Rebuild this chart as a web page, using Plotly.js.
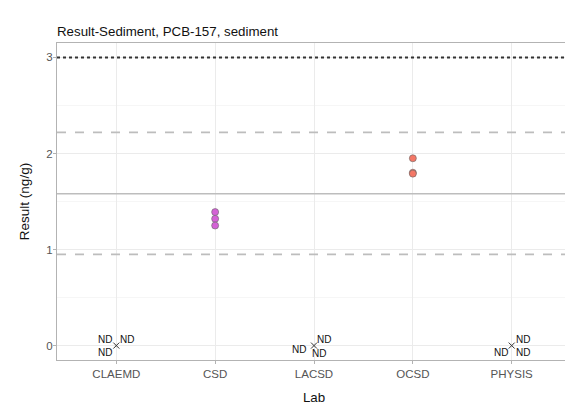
<!DOCTYPE html>
<html>
<head>
<meta charset="utf-8">
<script src="https://cdn.plot.ly/plotly-3.0.1.min.js"></script>
<style>
html, body { margin:0; padding:0; overflow:hidden; background:#fff; }
#chart { width:576px; height:416px; }
</style>
</head>
<body>
<div id="chart"></div>
<script>
// ---- data ----
var labs = ['CLAEMD', 'CSD', 'LACSD', 'OCSD', 'PHYSIS'];
var csdValues = [1.39, 1.32, 1.25];
var ocsdValues = [1.95, 1.80, 1.79];
var ndLabs = ['CLAEMD', 'LACSD', 'PHYSIS'];
var ndValue = 0;
var limitLine = 3.0;
var meanLine = 1.58;
var lowerBand = 0.95;
var upperBand = 2.22;
var yTicks = [0, 1, 2, 3];

// ND label offsets (pixel nudges, like ggrepel)
var ndOffsets = {
  'CLAEMD': [[-11, 6], [11, 6], [-11, -7]],
  'LACSD':  [[-15, -4], [10, 6], [5, -8]],
  'PHYSIS': [[11, 6], [-11, -7], [11, -7]]
};

var traces = [
  {
    type: 'scatter', mode: 'markers',
    x: csdValues.map(function(){ return 'CSD'; }), y: csdValues,
    marker: { size: 7, color: '#d462d6', line: { color: '#666666', width: 0.6 } },
    hoverinfo: 'skip'
  },
  {
    type: 'scatter', mode: 'markers',
    x: ocsdValues.map(function(){ return 'OCSD'; }), y: ocsdValues,
    marker: { size: 7, color: '#f47766', line: { color: '#666666', width: 0.6 } },
    hoverinfo: 'skip'
  },
  {
    type: 'scatter', mode: 'markers',
    x: ndLabs, y: ndLabs.map(function(){ return ndValue; }),
    marker: { symbol: 'x-thin', size: 6, color: '#333333', line: { color: '#333333', width: 1 } },
    hoverinfo: 'skip'
  }
];

function hline(y, color, dash, width) {
  return { type: 'line', xref: 'paper', x0: 0, x1: 1, yref: 'y', y0: y, y1: y,
           line: { color: color, dash: dash, width: width }, layer: 'above' };
}

var shapes = [
  hline(limitLine, '#333333', 'dot', 2),
  hline(upperBand, '#bdbdbd', 'dash', 1.6),
  hline(meanLine, '#bdbdbd', 'solid', 1.6),
  hline(lowerBand, '#bdbdbd', 'dash', 1.6)
];

var annotations = [];
ndLabs.forEach(function(lab) {
  ndOffsets[lab].forEach(function(o) {
    annotations.push({
      x: lab, y: ndValue, xref: 'x', yref: 'y', text: 'ND', showarrow: false,
      xshift: o[0], yshift: o[1],
      font: { family: 'Liberation Sans, Arial, sans-serif', size: 10, color: '#111111' }
    });
  });
});

var layout = {
  width: 576, height: 416,
  margin: { l: 57, r: 4.5, t: 43, b: 56 },
  paper_bgcolor: '#ffffff', plot_bgcolor: '#ffffff',
  showlegend: false,
  font: { family: 'Liberation Sans, Arial, sans-serif' },
  title: {
    text: 'Result-Sediment, PCB-157, sediment',
    x: 0, xref: 'paper', xanchor: 'left',
    y: 1 - 31/416, yref: 'container', yanchor: 'middle',
    font: { size: 13.3, color: '#111111' }
  },
  xaxis: {
    type: 'category', categoryorder: 'array', categoryarray: labs,
    range: [-0.6, 4.6],
    showgrid: true, gridcolor: '#ebebeb', gridwidth: 1,
    showline: true, linecolor: '#b3b3b3', linewidth: 1, mirror: true,
    ticks: 'outside', ticklen: 3, tickcolor: '#b3b3b3',
    tickfont: { size: 11.5, color: '#555555' },
    zeroline: false,
    title: { text: 'Lab', font: { size: 13.3, color: '#111111' }, standoff: 13 }
  },
  yaxis: {
    range: [-0.15, 3.15],
    tickvals: yTicks,
    showgrid: true, gridcolor: '#ebebeb', gridwidth: 1,
    minor: { dtick: 0.5, showgrid: true, gridcolor: '#f6f6f6', gridwidth: 1 },
    showline: true, linecolor: '#b3b3b3', linewidth: 1, mirror: true,
    ticks: 'outside', ticklen: 3, tickcolor: '#b3b3b3',
    tickfont: { size: 11.5, color: '#555555' },
    ticklabelstandoff: -2,
    zeroline: false,
    title: { text: 'Result (ng/g)', font: { size: 13.5, color: '#111111' }, standoff: 13 }
  },
  shapes: shapes,
  annotations: annotations
};

Plotly.newPlot('chart', traces, layout, { displayModeBar: false, staticPlot: true });
</script>
</body>
</html>
